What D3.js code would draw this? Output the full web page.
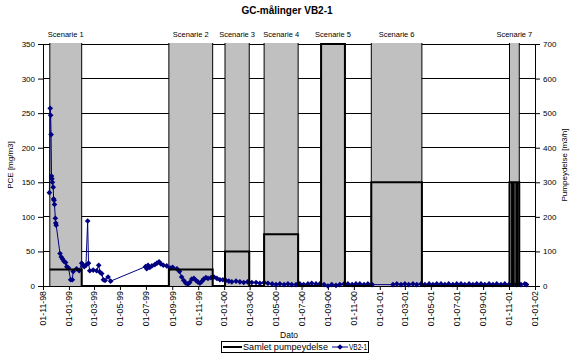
<!DOCTYPE html>
<html><head><meta charset="utf-8">
<script src="https://cdn.jsdelivr.net/npm/d3@7"></script>
<style>
html,body{margin:0;padding:0;background:#fff;}
svg{display:block;font-family:Arial,"Liberation Sans",sans-serif;}
</style></head>
<body><svg id="c" width="576" height="361"></svg>
<script>
// ---- data ----
const title = "GC-målinger VB2-1";
const xTickLabels = ["01-11-98","01-01-99","01-03-99","01-05-99","01-07-99","01-09-99","01-11-99","01-01-00","01-03-00","01-05-00","01-07-00","01-09-00","01-11-00","01-01-01","01-03-01","01-05-01","01-07-01","01-09-01","01-11-01","01-01-02"];
const leftTicks = [0,50,100,150,200,250,300,350];
const rightTicks = [0,100,200,300,400,500,600,700];
const scenarioNames = ["Scenarie 1","Scenarie 2","Scenarie 3","Scenarie 4","Scenarie 5","Scenarie 6","Scenarie 7"];
const scenarioStart = ["1998-11-17","1999-08-24","2000-01-03","2000-04-04","2000-08-16","2000-12-12","2001-11-02"];
const scenarioEnd   = ["1999-01-31","1999-12-05","2000-02-29","2000-06-23","2000-10-11","2001-04-10","2001-11-25"];
// Samlet pumpeydelse (m3/h), step series
const pumpDates  = ["1998-11-17","1999-01-31","1999-08-24","1999-12-05","2000-01-03","2000-02-29","2000-04-04","2000-06-23","2000-08-16","2000-10-11","2000-12-12","2001-04-10","2001-11-02","2001-11-08","2001-11-12","2001-11-18","2001-11-20","2001-11-25"];
const pumpValues = [48,0,48,0,100,0,150,0,700,0,300,0,300,0,300,0,300,0];
// VB2-1 PCE (mg/m3)
const vbDates = ["1998-11-16","1998-11-18","1998-11-19","1998-11-20","1998-11-21","1998-11-22","1998-11-23","1998-11-25","1998-11-26","1998-11-27","1998-11-28","1998-11-30","1998-12-01","1998-12-02",
"1998-12-11","1998-12-14","1998-12-17","1998-12-20","1998-12-24","1998-12-27","1998-12-31","1999-01-05","1999-01-09","1999-01-11","1999-01-19","1999-01-25","1999-01-31",
"1999-02-04","1999-02-06","1999-02-10","1999-02-14","1999-02-16","1999-02-19","1999-02-27","1999-03-07","1999-03-12","1999-03-15","1999-03-19","1999-03-23","1999-03-27","1999-04-03","1999-04-09",
"1999-06-30","1999-07-03","1999-07-06","1999-07-10","1999-07-15","1999-07-22","1999-07-27","1999-08-01","1999-08-05","1999-08-11","1999-08-19","1999-08-27","1999-09-02","1999-09-12","1999-09-18","1999-09-23","1999-09-28",
"1999-10-03","1999-10-08","1999-10-12","1999-10-17","1999-10-22","1999-10-27","1999-10-31","1999-11-05","1999-11-10","1999-11-14","1999-11-19","1999-11-24","1999-12-01","1999-12-08","1999-12-15","1999-12-22","1999-12-29",
"2000-01-05","2000-01-12","2000-01-19","2000-01-29","2000-02-07","2000-02-16","2000-02-25","2000-03-06","2000-03-16","2000-03-25","2000-04-04","2000-04-13","2000-04-23","2000-05-02","2000-05-11","2000-05-21","2000-05-30",
"2000-06-08","2000-06-18","2000-06-27","2000-07-06","2000-07-16","2000-07-25","2000-08-04","2000-08-13","2000-08-23","2000-09-01","2000-09-10","2000-09-20","2000-09-29","2000-10-09","2000-10-18","2000-10-28",
"2000-11-06","2000-11-15","2000-11-25","2000-12-04","2000-12-14",
"2001-02-01","2001-02-10","2001-02-20","2001-03-01","2001-03-10","2001-03-20","2001-03-29","2001-04-08","2001-04-17","2001-04-27","2001-05-06","2001-05-15","2001-05-25","2001-06-03","2001-06-12","2001-06-22",
"2001-07-01","2001-07-11","2001-07-20","2001-07-30","2001-08-08","2001-08-17","2001-08-27","2001-09-05","2001-09-15","2001-09-24","2001-10-03","2001-10-13","2001-10-22","2001-11-01","2001-11-10","2001-11-19","2001-11-29","2001-12-08","2001-12-12"];
const vbValues = [135,257,247,219,159,155,150,143,126,124,118,98,91,88,
47,42,39,36,34,28,26,9,9,21,25,22,33,
30,28,30,94,33,22,23,22,30,20,18,9,8,13,7,
28,25,30,27,29,31,33,35,32,30,29,26,27,25,21,13,8,
4,3,5,10,11,8,6,4,7,10,12,11,12,13,11,9,9,
8,7,6,7,6,5,6,5,5,4,5,4,3,2,3,2,3,
2,2,3,2,3,4,3,3,2,0,2,1,2,3,3,2,
3,3,2,3,2,
2,3,2,3,2,3,2,3,2,3,2,3,3,2,3,2,
3,3,2,3,2,3,3,2,3,2,3,2,3,2,3,2,2,3,2];

// ---- chart ----
const FONT = 'Arial,"Liberation Sans",sans-serif';
const parse = d3.utcParse("%Y-%m-%d");
const parseTick = d3.utcParse("%d-%m-%y");
const svg = d3.select("#c");
const L = 43, R = 535, T = 44, B = 286;
const x = d3.scaleUtc().domain([parseTick(xTickLabels[0]), parseTick(xTickLabels[xTickLabels.length-1])]).range([L,R]);
const yL = d3.scaleLinear().domain([0,350]).range([B,T]);
const yR = d3.scaleLinear().domain([0,700]).range([B,T]);

// title
svg.append("text").attr("x",287).attr("y",14).attr("text-anchor","middle")
  .attr("font-size",10).attr("font-weight","bold").text(title);

// gridlines
svg.append("g").selectAll("line").data(leftTicks.filter(d=>d>0)).join("line")
  .attr("x1",L).attr("x2",R).attr("y1",d=>yL(d)).attr("y2",d=>yL(d))
  .attr("stroke","#000").attr("stroke-width",1).attr("shape-rendering","crispEdges");

// scenario columns
const sc = svg.append("g");
scenarioNames.forEach((n,i)=>{
  const x0 = x(parse(scenarioStart[i])), x1 = x(parse(scenarioEnd[i]));
  sc.append("rect").attr("x",x0).attr("y",T-1).attr("width",x1-x0).attr("height",B-T+1).attr("fill","#c0c0c0");
  [x0,x1].forEach(xx=>sc.append("line").attr("x1",xx).attr("x2",xx).attr("y1",T-1).attr("y2",B)
     .attr("stroke","#000").attr("stroke-width",1));
  svg.append("text").attr("x",(x0+x1)/2).attr("y",37).attr("text-anchor","middle")
     .attr("font-size",7.5).text(n);
});

// axes
const axL = svg.append("g").attr("transform",`translate(${L},0)`)
  .call(d3.axisLeft(yL).tickValues(leftTicks).tickSize(5).tickPadding(3));
const axR = svg.append("g").attr("transform",`translate(${R},0)`)
  .call(d3.axisRight(yR).tickValues(rightTicks).tickSize(5).tickPadding(3));
const axB = svg.append("g").attr("transform",`translate(0,${B})`)
  .call(d3.axisBottom(x).tickValues(xTickLabels.map(parseTick)).tickFormat(d3.utcFormat("%d-%m-%y")).tickSize(4));
[axL,axR,axB].forEach(a=>{
  a.select(".domain").attr("stroke","#000").attr("stroke-width",1);
  a.selectAll(".tick line").attr("stroke","#000");
  a.selectAll("text").attr("font-size",8).attr("font-family",FONT).attr("fill","#000");
});
axB.selectAll(".tick text").attr("transform","rotate(-90)").attr("text-anchor","end")
  .attr("x",-5).attr("y",0).attr("dy","0.32em").attr("font-size",8.8);

// axis titles
svg.append("text").attr("transform","translate(13,165) rotate(-90)").attr("text-anchor","middle")
  .attr("font-size",8).text("PCE [mg/m3]");
svg.append("text").attr("transform","translate(567,165) rotate(-90)").attr("text-anchor","middle")
  .attr("font-size",8).text("Pumpeydelse [m3/h]");
svg.append("text").attr("x",289).attr("y",338).attr("text-anchor","middle")
  .attr("font-size",8.5).text("Dato");

// VB2-1 series
const vb = vbDates.map((d,i)=>({d:parse(d),v:vbValues[i]}));
const diamond = {draw(ctx,size){const r=Math.sqrt(size/2);ctx.moveTo(0,-r);ctx.lineTo(r,0);ctx.lineTo(0,r);ctx.lineTo(-r,0);ctx.closePath();}};
svg.append("path").datum(vb).attr("fill","none").attr("stroke","#000080").attr("stroke-width",1)
  .attr("d",d3.line().x(d=>x(d.d)).y(d=>yL(d.v)));
svg.append("g").selectAll("path").data(vb).join("path")
  .attr("transform",d=>`translate(${x(d.d)},${yL(d.v)})`)
  .attr("d",d3.symbol(diamond,16)).attr("fill","#000080");

// pump series
const pump = pumpDates.map((d,i)=>({d:parse(d),v:pumpValues[i]}));
svg.append("path").datum(pump).attr("fill","none").attr("stroke","#000").attr("stroke-width",2)
  .attr("d",d3.line().curve(d3.curveStepAfter).x(d=>x(d.d)).y(d=>yR(d.v)));

// legend
const lg = svg.append("g");
lg.append("rect").attr("x",221.5).attr("y",341.5).attr("width",147).attr("height",11)
  .attr("fill","#fff").attr("stroke","#000").attr("stroke-width",1);
lg.append("line").attr("x1",223).attr("x2",242).attr("y1",347).attr("y2",347).attr("stroke","#000").attr("stroke-width",2);
lg.append("text").attr("x",243).attr("y",350).attr("font-size",8.5).attr("textLength",85).attr("lengthAdjust","spacingAndGlyphs").text("Samlet pumpeydelse");
lg.append("line").attr("x1",332).attr("x2",348).attr("y1",347).attr("y2",347).attr("stroke","#000080").attr("stroke-width",1);
lg.append("path").attr("transform","translate(340,347)").attr("d",d3.symbol(diamond,16)).attr("fill","#000080");
lg.append("text").attr("x",349).attr("y",350).attr("font-size",8.5).attr("textLength",18).attr("lengthAdjust","spacingAndGlyphs").text("VB2-1");
</script></body></html>
